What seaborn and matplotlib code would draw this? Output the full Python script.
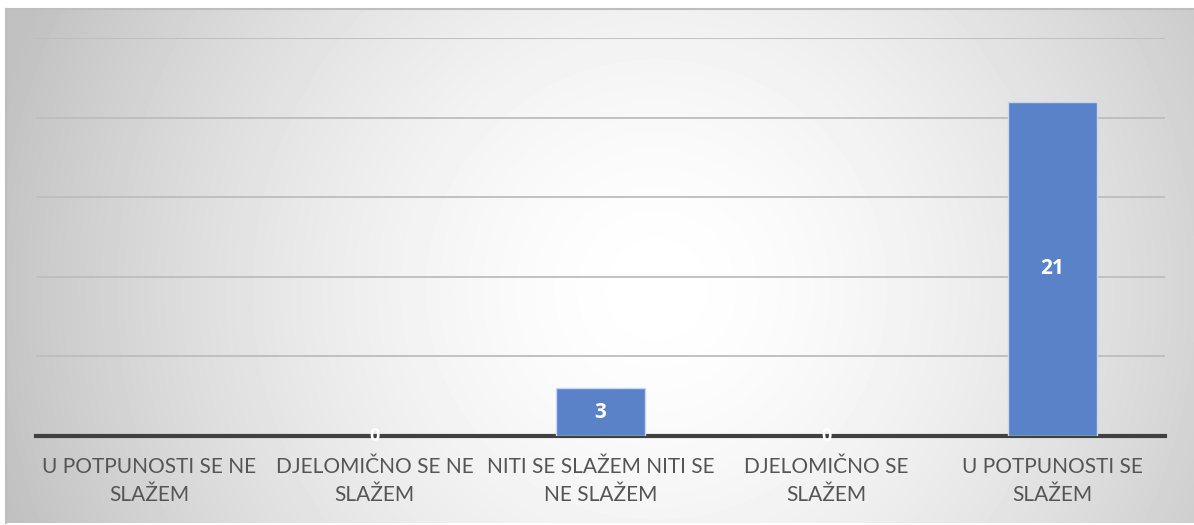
"""Bar chart of agreement responses on a radial grey gradient."""

import matplotlib

matplotlib.use("Agg")
import matplotlib.pyplot as plt
import numpy as np
import seaborn as sns

categories = [
    "U POTPUNOSTI SE NE\nSLAŽEM",
    "DJELOMIČNO SE NE\nSLAŽEM",
    "NITI SE SLAŽEM NITI SE\nNE SLAŽEM",
    "DJELOMIČNO SE\nSLAŽEM",
    "U POTPUNOSTI SE\nSLAŽEM",
]
counts = [0, 0, 3, 0, 21]
y_ticks = [0, 5, 10, 15, 20, 25]

BAR_COLOR = "#5A82C9"
TEXT_COLOR = "#555555"
GRID_COLOR = "#BDBDBD"
BASE_COLOR = "#404040"

sns.set_theme(style="white")
plt.rcParams["font.family"] = ["Lato", "DejaVu Sans"]

fig = plt.figure(figsize=(11.94, 5.25), dpi=100)
fig.patch.set_facecolor("white")

# chart area with radial gradient
bg = fig.add_axes([6 / 1194, 2 / 525, 1188 / 1194, 514 / 525], zorder=0)
w, h = 1188, 514
xs, ys = np.meshgrid(np.arange(w), np.arange(h))
dist = np.sqrt((xs - 650) ** 2 + (ys - 280) ** 2) / 680
shade = 255 - 62 * np.clip(dist, 0, 1) ** 1.6
bg.imshow(shade, cmap="gray", vmin=0, vmax=255, aspect="auto", interpolation="bilinear")
bg.set_xticks([])
bg.set_yticks([])
for side, spine in bg.spines.items():
    spine.set_visible(side in ("left", "top"))
    spine.set_color("#BEBEBE")
    spine.set_linewidth(1.5)

ax = fig.add_axes([36 / 1194, 89 / 525, 1129 / 1194, 398 / 525], zorder=1)
ax.patch.set_alpha(0)
sns.barplot(
    x=list(range(len(categories))),
    y=counts,
    ax=ax,
    color=BAR_COLOR,
    width=0.394,
    edgecolor="#C9D6EE",
    linewidth=1.0,
    saturation=1,
    zorder=3,
)
for patch in ax.patches:
    if patch.get_height() == 0:
        patch.set_linewidth(0)
ax.set_xlim(-0.5, len(categories) - 0.5)
ax.set_ylim(0, 25)
ax.set_yticks(y_ticks)
ax.set_yticklabels([])
ax.tick_params(axis="y", length=0)
ax.yaxis.grid(True, color=GRID_COLOR, linewidth=1.3)
ax.set_axisbelow(True)
ax.set_xticks(range(len(categories)))
ax.set_xticklabels(categories, fontsize=15, color=TEXT_COLOR, linespacing=1.5)
ax.tick_params(axis="x", length=0, pad=15)
for side in ("left", "right", "top"):
    ax.spines[side].set_visible(False)
ax.spines["bottom"].set_color(BASE_COLOR)
ax.spines["bottom"].set_linewidth(3)
ax.spines["bottom"].set_zorder(2)

bold_font = ["Open Sans", "DejaVu Sans"]
for idx, value in enumerate(counts):
    if value > 0:
        ax.text(idx, value / 2, str(value), ha="center", va="center", color="white",
                fontsize=15, fontweight="bold", family=bold_font, zorder=5)
    elif idx > 0:
        ax.text(idx, 0, str(value), ha="center", va="center", color="white",
                fontsize=13, fontweight="bold", family=bold_font, zorder=5)

ax.set_xlabel("")
ax.set_ylabel("")
fig.savefig("out.png", dpi=100, facecolor="white")
